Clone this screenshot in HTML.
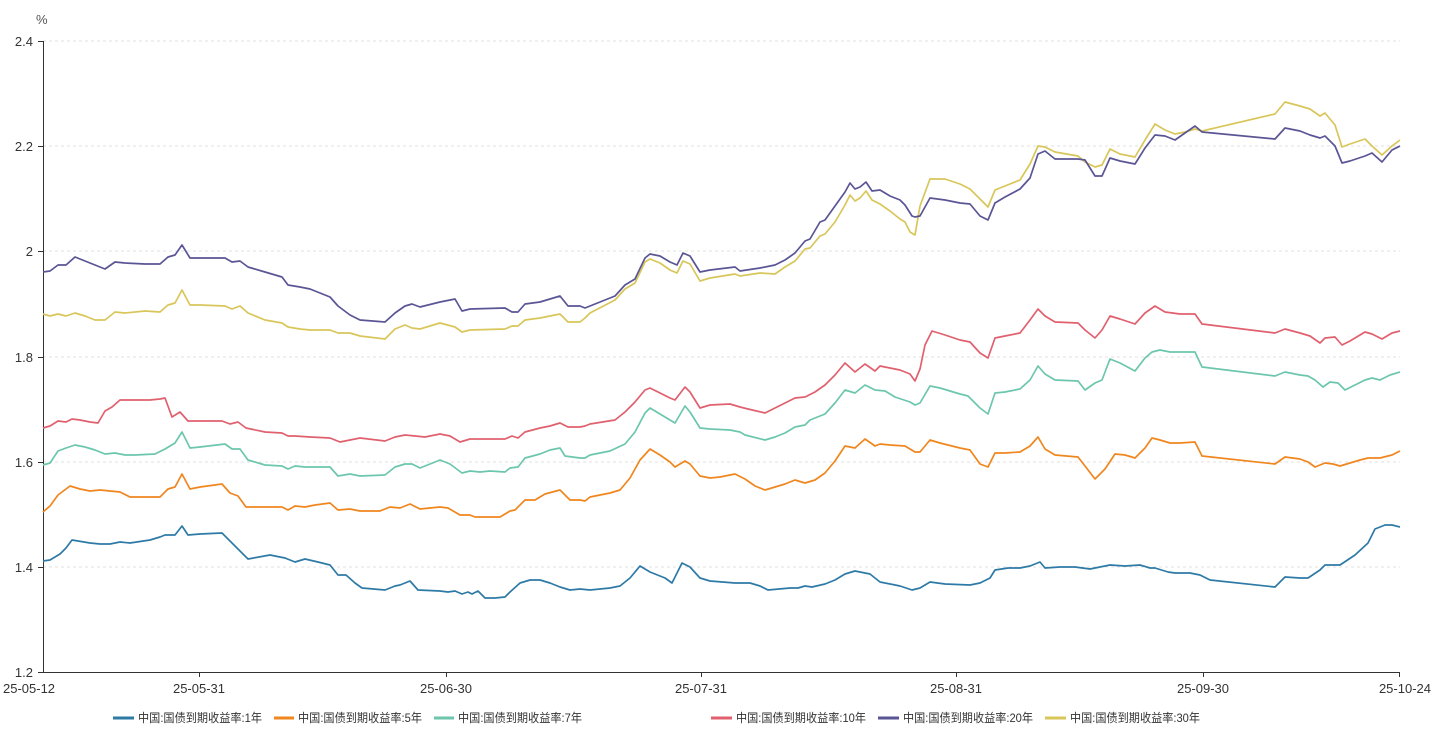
<!DOCTYPE html>
<html><head><meta charset="utf-8"><style>
body{margin:0;background:#fff;}
svg{display:block;font-family:"Liberation Sans","Noto Sans CJK SC",sans-serif;}
</style></head><body>
<svg width="1446" height="736" viewBox="0 0 1446 736">
<g stroke="#e0e0e0" stroke-dasharray="3,3" stroke-width="1">
<line x1="43" y1="41" x2="1400" y2="41"/><line x1="43" y1="146" x2="1400" y2="146"/><line x1="43" y1="251" x2="1400" y2="251"/><line x1="43" y1="357" x2="1400" y2="357"/><line x1="43" y1="462" x2="1400" y2="462"/><line x1="43" y1="567" x2="1400" y2="567"/>
</g>
<g stroke="#333" stroke-width="1">
<line x1="43.5" y1="41" x2="43.5" y2="672"/><line x1="43" y1="672.5" x2="1400" y2="672.5"/>
<line x1="38" y1="41.5" x2="43" y2="41.5"/><line x1="38" y1="146.5" x2="43" y2="146.5"/><line x1="38" y1="251.5" x2="43" y2="251.5"/><line x1="38" y1="357.5" x2="43" y2="357.5"/><line x1="38" y1="462.5" x2="43" y2="462.5"/><line x1="38" y1="567.5" x2="43" y2="567.5"/><line x1="38" y1="672.5" x2="43" y2="672.5"/>
<line x1="199.5" y1="672" x2="199.5" y2="677"/><line x1="446.5" y1="672" x2="446.5" y2="677"/><line x1="701.5" y1="672" x2="701.5" y2="677"/><line x1="956.5" y1="672" x2="956.5" y2="677"/><line x1="1203.5" y1="672" x2="1203.5" y2="677"/><line x1="1399.5" y1="672" x2="1399.5" y2="677"/>
</g>
<g font-size="13" fill="#333" text-anchor="end">
<text x="33" y="46">2.4</text><text x="33" y="151">2.2</text><text x="33" y="256">2</text><text x="33" y="362">1.8</text><text x="33" y="467">1.6</text><text x="33" y="572">1.4</text><text x="33" y="677">1.2</text>
</g>
<text x="36" y="24" font-size="13" fill="#555">%</text>
<g font-size="13" fill="#333" text-anchor="middle">
<text x="3" y="693" text-anchor="start">25-05-12</text><text x="199" y="693">25-05-31</text><text x="446" y="693">25-06-30</text><text x="701" y="693">25-07-31</text><text x="956" y="693">25-08-31</text><text x="1203" y="693">25-09-30</text><text x="1431" y="693" text-anchor="end">25-10-24</text>
</g>
<g fill="none" stroke-width="1.7" stroke-linejoin="round">
<polyline stroke="#d9c65a" points="43,314 50,316 58,314 66,316 75,313 85,316 95,320 105,320 115,312 125,313 145,311 160,312 168,305 175,303 182,290 190,305 200,305 225,306 232,309 240,306 248,313 265,320 282,323 288,327 300,329 310,330 330,330 338,333 350,333 360,336 385,339 395,329 405,325 412,328 420,329 440,323 455,327 462,332 470,330 505,329 512,326 518,326 525,320 540,318 550,316 560,314 568,322 580,322 585,318 590,313 615,300 625,289 635,283 645,262 650,259 660,263 670,270 677,273 683,261 690,264 700,281 710,278 735,274 740,276 760,273 775,274 785,267 795,261 805,249 810,248 820,236 825,234 835,222 845,205 850,195 855,201 860,198 866,191 872,200 880,204 890,211 900,219 905,222 910,232 915,235 920,206 930,179 945,179 960,184 970,189 980,199 988,207 995,190 1005,186 1020,180 1030,164 1038,146 1045,147 1055,152 1078,156 1085,162 1095,167 1102,165 1110,149 1120,154 1135,157 1145,140 1155,124 1165,130 1175,134 1185,132 1195,129 1202,131 1275,114 1285,102 1300,106 1310,109 1320,116 1325,113 1335,125 1342,147 1350,144 1365,139 1372,146 1382,155 1392,146 1400,140"/>
<polyline stroke="#5a5594" points="43,272 50,271 58,265 66,265 75,257 85,261 95,265 105,269 115,262 125,263 145,264 160,264 168,257 175,255 182,245 190,258 200,258 225,258 232,262 240,261 248,267 265,272 282,277 288,285 300,287 310,289 330,297 338,306 350,315 360,320 385,322 395,313 405,306 412,304 420,307 440,302 455,299 462,311 470,309 505,308 512,312 518,312 525,304 540,302 550,299 560,296 568,306 580,306 585,308 590,306 615,296 625,285 635,279 645,258 650,254 660,256 670,262 677,265 683,253 690,256 700,272 710,270 735,267 740,271 760,268 775,265 785,260 795,253 805,241 810,239 820,222 825,220 835,206 845,192 850,183 855,189 860,187 866,182 872,191 880,190 890,196 900,200 905,205 912,216 915,217 920,216 930,198 945,200 960,203 970,204 980,216 988,220 995,203 1005,197 1020,189 1030,178 1038,154 1045,151 1055,159 1078,159 1085,160 1095,176 1102,176 1110,158 1120,161 1135,164 1145,148 1155,135 1165,136 1175,140 1185,133 1195,126 1202,132 1275,139 1285,128 1300,131 1310,135 1320,138 1325,136 1335,146 1342,163 1350,161 1365,156 1372,153 1382,162 1392,150 1400,146"/>
<polyline stroke="#e0606e" points="43,428 50,426 58,421 66,422 72,419 80,420 90,422 98,423 105,411 112,407 120,400 130,400 150,400 160,399 165,398 172,417 180,412 188,421 200,421 222,421 230,424 238,422 246,428 265,432 282,433 288,436 295,436 310,437 330,438 340,442 350,440 360,438 385,441 395,437 405,435 415,436 425,437 440,434 450,436 460,442 470,439 505,439 512,436 518,438 525,432 540,428 550,426 560,423 568,427 580,427 585,426 590,424 615,420 625,412 635,402 645,390 650,388 660,393 670,398 675,400 685,387 690,392 700,408 710,405 730,404 740,407 748,409 765,413 775,408 785,403 795,398 805,397 815,392 825,385 835,375 845,363 855,372 865,364 875,371 880,366 890,368 900,370 910,374 915,381 920,369 925,345 932,331 945,335 960,340 970,342 980,353 988,358 995,338 1005,336 1020,333 1030,320 1038,309 1045,316 1055,322 1078,323 1085,330 1095,338 1102,330 1110,316 1120,319 1135,324 1145,313 1155,306 1165,312 1180,314 1195,314 1202,324 1275,333 1285,329 1300,333 1310,336 1320,343 1325,338 1335,337 1342,345 1350,341 1365,332 1372,334 1382,339 1392,333 1400,331"/>
<polyline stroke="#6cc6ad" points="43,465 50,463 58,451 66,448 75,445 85,447 95,450 105,454 115,453 125,455 135,455 155,454 165,449 175,443 182,432 190,448 200,447 225,444 232,449 240,449 248,460 265,465 282,466 288,469 295,466 305,467 330,467 338,476 350,474 360,476 385,475 395,467 405,464 412,464 420,468 440,460 450,464 462,473 470,471 480,472 490,471 505,472 510,468 518,467 525,458 540,454 550,450 560,448 565,456 580,458 585,458 590,455 600,453 610,451 625,444 635,432 645,413 650,408 660,414 670,420 675,423 685,406 690,412 700,428 710,429 730,430 740,432 745,435 765,440 775,437 785,433 795,427 805,425 810,420 820,416 825,414 835,403 845,390 855,393 865,385 875,390 885,391 895,397 910,402 915,405 920,403 930,386 940,388 960,394 968,396 980,408 988,414 995,393 1005,392 1020,389 1030,380 1038,366 1045,374 1055,380 1078,381 1085,390 1095,383 1102,380 1110,359 1120,363 1135,371 1145,358 1152,352 1160,350 1170,352 1180,352 1195,352 1202,367 1275,376 1285,372 1300,375 1308,376 1315,380 1323,387 1330,382 1338,383 1345,390 1355,385 1365,380 1372,378 1380,380 1390,375 1400,372"/>
<polyline stroke="#f0861e" points="43,512 50,506 58,495 70,486 80,489 90,491 100,490 110,491 120,492 130,497 150,497 160,497 168,489 175,487 182,474 190,489 200,487 222,484 230,493 238,496 246,507 265,507 282,507 288,510 295,506 305,507 315,505 330,503 338,510 350,509 360,511 380,511 390,507 400,508 410,504 420,509 430,508 440,507 448,508 460,515 470,515 475,517 500,517 510,511 515,510 525,500 535,500 545,494 560,490 570,500 580,500 585,501 590,497 600,495 610,493 620,490 630,478 640,460 650,449 660,455 670,462 675,467 685,461 690,464 700,476 710,478 720,477 735,474 745,479 755,486 765,490 775,487 785,484 795,480 805,483 815,480 825,473 835,461 845,446 855,448 865,439 875,446 880,444 890,445 905,446 915,452 920,452 930,440 940,443 960,448 970,450 980,464 988,467 995,453 1005,453 1020,452 1030,446 1038,437 1045,449 1055,455 1078,457 1085,466 1095,479 1105,469 1115,454 1125,455 1135,458 1145,448 1152,438 1160,440 1170,443 1180,443 1195,442 1202,456 1275,464 1285,457 1300,459 1308,462 1315,467 1325,463 1333,464 1340,466 1350,463 1360,460 1368,458 1380,458 1392,455 1400,451"/>
<polyline stroke="#2e7aa6" points="43,561 50,560 60,554 66,548 72,540 90,543 100,544 110,544 120,542 130,543 150,540 160,537 165,535 175,535 182,526 188,535 200,534 222,533 235,546 248,559 270,555 285,558 295,562 305,559 318,562 330,565 338,575 346,575 355,583 362,588 385,590 395,586 400,585 410,581 418,590 440,591 448,592 455,591 462,594 468,592 472,594 478,591 485,598 495,598 505,597 510,592 520,583 530,580 540,580 550,583 560,587 570,590 580,589 590,590 610,588 620,586 630,578 640,566 650,572 665,578 672,583 682,563 690,567 700,578 710,581 735,583 750,583 760,586 768,590 790,588 798,588 805,586 812,587 825,584 835,580 845,574 855,571 870,574 880,582 900,586 912,590 920,588 930,582 945,584 970,585 980,583 990,578 995,570 1008,568 1020,568 1030,566 1040,562 1045,568 1060,567 1075,567 1090,569 1100,567 1110,565 1125,566 1140,565 1150,568 1155,568 1168,572 1175,573 1190,573 1200,575 1210,580 1275,587 1285,577 1300,578 1308,578 1320,570 1325,565 1340,565 1355,555 1368,543 1375,529 1385,525 1392,525 1400,527"/>
</g>
<g stroke-width="3">
<line x1="113" y1="718" x2="134" y2="718" stroke="#2e7aa6"/>
<line x1="274" y1="718" x2="294" y2="718" stroke="#f0861e"/>
<line x1="434" y1="718" x2="454" y2="718" stroke="#6cc6ad"/>
<line x1="711" y1="718" x2="732" y2="718" stroke="#e0606e"/>
<line x1="878" y1="718" x2="899" y2="718" stroke="#5a5594"/>
<line x1="1045" y1="718" x2="1066" y2="718" stroke="#d9c65a"/>
</g>
<g font-size="12" fill="#333" lengthAdjust="spacingAndGlyphs">
<text x="138" y="722" textLength="124" lengthAdjust="spacingAndGlyphs">中国:国债到期收益率:1年</text>
<text x="298" y="722" textLength="124" lengthAdjust="spacingAndGlyphs">中国:国债到期收益率:5年</text>
<text x="458" y="722" textLength="124" lengthAdjust="spacingAndGlyphs">中国:国债到期收益率:7年</text>
<text x="736" y="722" textLength="130" lengthAdjust="spacingAndGlyphs">中国:国债到期收益率:10年</text>
<text x="903" y="722" textLength="130" lengthAdjust="spacingAndGlyphs">中国:国债到期收益率:20年</text>
<text x="1070" y="722" textLength="130" lengthAdjust="spacingAndGlyphs">中国:国债到期收益率:30年</text>
</g>
</svg>
</body></html>
